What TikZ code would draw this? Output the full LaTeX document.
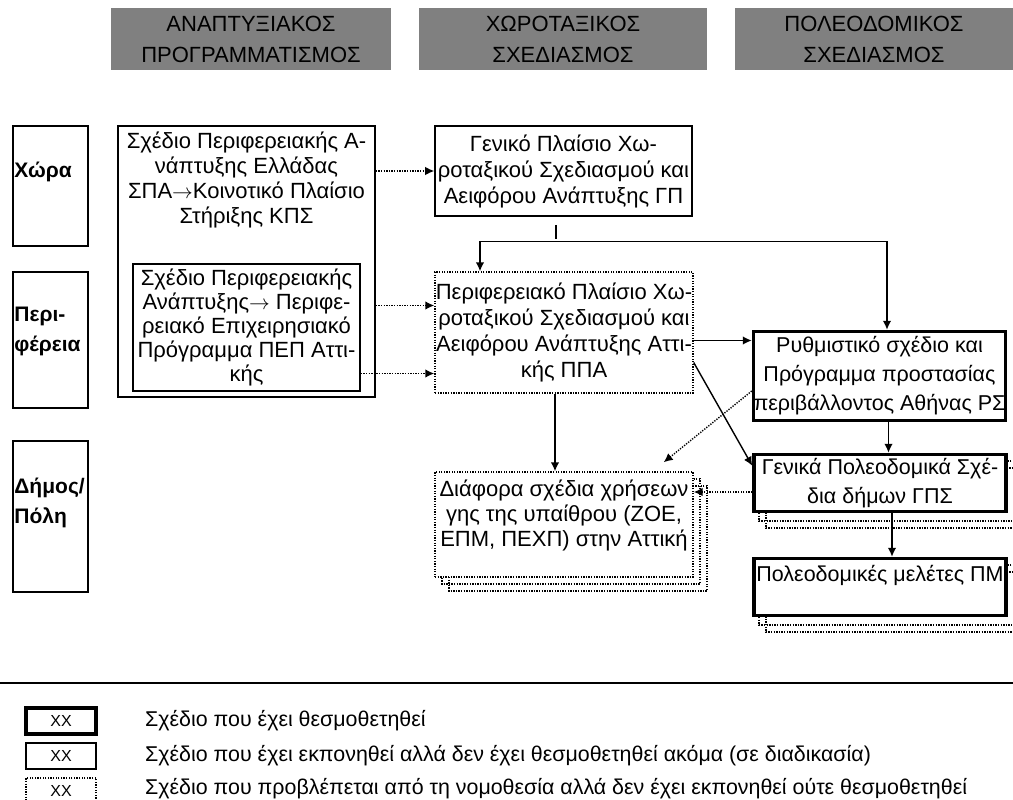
\documentclass[tikz,border=0pt]{standalone}
\usepackage{fontspec}
\setmainfont{Liberation Sans}
\usepackage{amsmath}
\usetikzlibrary{positioning}
\usetikzlibrary{calc,arrows.meta,backgrounds}

\begin{document}
\begin{tikzpicture}[x=1pt,y=-1pt,>={Latex[length=9pt,width=8.5pt]}]
	\tikzset{
  		plan done/.style= {draw, line width=3.5pt, fill=white},
  		plan draft/.style= {draw, line width=1.6pt, fill=white},
  		plan due/.style= {draw, line width=1.4pt, dash pattern=on 1.3pt off 1.3pt, fill=white},
  		plan text/.style= {align=center, inner sep=0pt, font=\fontsize{22}{26}\selectfont},
  		head box/.style= {fill=gray, minimum height=62pt, align=center, font=\fontsize{22}{31}\selectfont},
  		row box/.style= {draw, line width=1.6pt, minimum width=75pt},
  		row label/.style= {anchor=north west, align=left, inner sep=0pt, font=\fontsize{21}{30}\selectfont\bfseries},
  		link/.style= {line width=1.4pt, ->},
  		plan link/.style= {link, dash pattern=on 1.3pt off 1.3pt},
  		copy line/.style= {line width=1.3pt, dash pattern=on 1.3pt off 1.3pt},
  		key box/.style= {minimum width=70pt, minimum height=26pt, font=\fontsize{16}{19}\selectfont},
  		key text/.style= {anchor=west, inner sep=0pt, font=\fontsize{21.4}{24}\selectfont}
		}
	\useasboundingbox (0,0) rectangle (1013,800);

	\path 	(251,39) node [name=hdev, head box, minimum width=280pt] {ΑΝΑΠΤΥΞΙΑΚΟΣ\\ΠΡΟΓΡΑΜΜΑΤΙΣΜΟΣ}
			(563,39) node [name=hspat, head box, minimum width=288pt] {ΧΩΡΟΤΑΞΙΚΟΣ\\ΣΧΕΔΙΑΣΜΟΣ}
			(874,39) node [name=hurb, head box, minimum width=278pt] {ΠΟΛΕΟΔΟΜΙΚΟΣ\\ΣΧΕΔΙΑΣΜΟΣ};

	\path 	(50.5,186) node [name=chora, row box, minimum height=120pt] {}
			(50.5,340) node [name=perif, row box, minimum height=136pt] {}
			(50.5,516.5) node [name=dimos, row box, minimum height=151pt] {};
	\node [name=chorat, row label] at ($(chora.north west)+(2,37)$) {Χώρα};
	\node [name=perift, row label] at ($(perif.north west)+(2,36)$) {Περι-\\φέρεια};
	\node [name=dimost, row label] at ($(dimos.north west)+(2,38)$) {Δήμος/\\Πόλη};

	\path 	(246.5,261.5) node [name=spa, plan draft, minimum width=257pt, minimum height=271pt] {}
			(246.5,327.5) node [name=pep, plan draft, plan text, minimum width=227pt, minimum height=127pt, font=\fontsize{22}{24}\selectfont] {Σχέδιο Περιφερειακής\\Ανάπτυξης$\rightarrow$ Περιφε-\\ρειακό Επιχειρησιακό\\Πρόγραμμα ΠΕΠ Αττι-\\κής};
	\node [name=spat, plan text, anchor=north, font=\fontsize{22}{25}\selectfont] at ($(spa.north)+(0,7)$) {Σχέδιο Περιφερειακής Α-\\νάπτυξης Ελλάδας\\ΣΠΑ$\rightarrow$Κοινοτικό Πλαίσιο\\Στήριξης ΚΠΣ};

	\path 	(563.5,171) node [name=gp, plan draft, plan text, minimum width=257pt, minimum height=90pt] {Γενικό Πλαίσιο Χω-\\ροταξικού Σχεδιασμού και\\Αειφόρου Ανάπτυξης ΓΠ}
			(564,332.5) node [name=ppa, plan due, plan text, minimum width=258pt, minimum height=121pt] {Περιφερειακό Πλαίσιο Χω-\\ροταξικού Σχεδιασμού και\\Αειφόρου Ανάπτυξης Αττι-\\κής ΠΠΑ};

	\begin{scope}[on background layer]
		\draw[copy line] (449,486) rectangle (707,591);
		\draw[copy line] (442,479) rectangle (700,584);
		\draw[copy line] (766,468) rectangle (1022,528);
		\draw[copy line] (759,461) rectangle (1015,521);
		\draw[copy line] (766,572) rectangle (1022,632);
		\draw[copy line] (759,565) rectangle (1015,625);
	\end{scope}

	\path 	(564,524.5) node [name=dia, plan due, minimum width=258pt, minimum height=105pt] {}
			(879.5,376) node [name=rs, plan done, plan text, minimum width=252pt, minimum height=89pt, font=\fontsize{21.5}{29}\selectfont] {Ρυθμιστικό σχέδιο και\\Πρόγραμμα προστασίας\\περιβάλλοντος Αθήνας ΡΣ}
			(880,483) node [name=gps, plan done, plan text, minimum width=252pt, minimum height=57pt, font=\fontsize{21.5}{29}\selectfont] {Γενικά Πολεοδομικά Σχέ-\\δια δήμων ΓΠΣ}
			(880,587) node [name=pm, plan done, minimum width=252pt, minimum height=57pt] {};
	\node [name=diat, plan text, anchor=north, font=\fontsize{22}{25}\selectfont] at ($(dia.north)+(0,8)$) {Διάφορα σχέδια χρήσεων\\γης της υπαίθρου (ΖΟΕ,\\ΕΠΜ, ΠΕΧΠ) στην Αττική};
	\node [name=pmt, plan text, anchor=north, font=\fontsize{21.5}{26}\selectfont] at ($(pm.north)+(0,8)$) {Πολεοδομικές μελέτες ΠΜ};

	\coordinate (in1) at ($(ppa.west)+(0,-27)$);
	\coordinate (in2) at ($(ppa.west)+(0,41)$);
	\draw[plan link] (spa.east |- gp.west) -- (gp.west);
	\draw[plan link] (spa.east |- in1) -- (in1);
	\draw[plan link] (pep.east |- in2) -- (in2);

	\coordinate (tick) at ($(gp.south)+(-7.5,8)$);
	\coordinate (ppae) at ($(ppa.east)+(0,8)$);
	\coordinate (ppas) at ($(ppa.south)+(-9,0)$);
	\coordinate (rss) at ($(rs.south)+(9,0)$);
	\coordinate (gpss) at ($(gps.south)+(12,0)$);
	\coordinate (gpsw) at ($(gps.west)+(0,9)$);
	\draw[line width=1.4pt] (tick) -- ++(0,14);
	\draw[link, <->] ($(ppa.north)+(-84,0)$) -- ++(0,-30) -| ($(rs.north)+(7.5,0)$);
	\draw[link] (ppae) -- (ppae -| rs.west);
	\draw[link] (ppas) -- (ppas |- dia.north);
	\draw[link] ($(ppa.east)+(0,30)$) -- ($(gps.north west)+(0,13)$);
	\draw[link] (rss) -- (rss |- gps.north);
	\draw[link] (gpss) -- (gpss |- pm.north);
	\draw[plan link] ($(rs.west)+(0,15)$) -- ($(dia.north east)+(-30,-9)$);
	\draw[plan link] (gpsw) -- (gpsw -| dia.east);

	\draw[line width=2.5pt] (0,683) -- (1013,683);
	\path 	(61,721) node [name=kdone, plan done, key box] {XX}
			(61,756) node [name=kdraft, plan draft, key box] {XX}
			(61,791) node [name=kdue, plan due, key box] {XX};
	\node [name=kdonet, key text] at (145,721) {Σχέδιο που έχει θεσμοθετηθεί};
	\node [name=kdraftt, key text] at (145,756) {Σχέδιο που έχει εκπονηθεί αλλά δεν έχει θεσμοθετηθεί ακόμα (σε διαδικασία)};
	\node [name=kduet, key text] at (145,789) {Σχέδιο που προβλέπεται από τη νομοθεσία αλλά δεν έχει εκπονηθεί ούτε θεσμοθετηθεί};
\end{tikzpicture}
\end{document}
